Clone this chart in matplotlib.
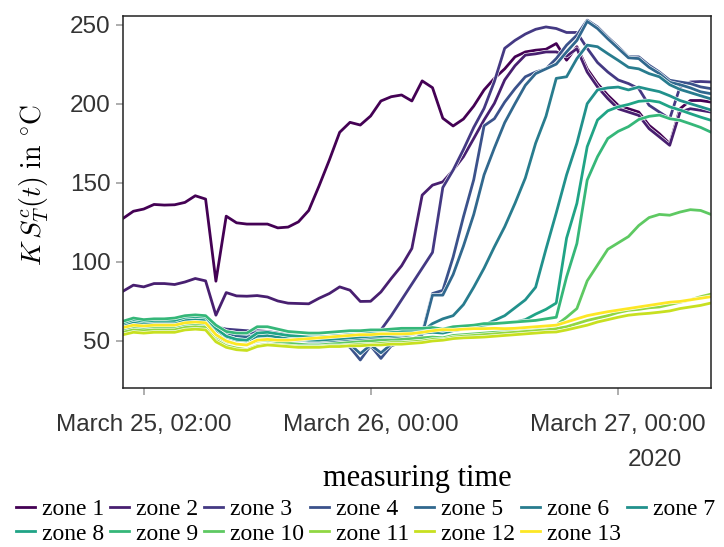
import numpy as np
import pandas as pd
import matplotlib
matplotlib.use('Agg')
import matplotlib.pyplot as plt
import matplotlib.patheffects as pe

# hourly samples, March 25 00:00 .. March 27 09:00 (2020)
times = pd.date_range('2020-03-25 00:00', periods=58, freq='h')

zone1 = [127.5, 132, 133.4, 136.3, 135.9, 136.1, 137.6, 141.8, 139.7, 87.8,
         128.9, 124.7, 123.9, 123.9, 123.9, 121.5, 122, 125.3, 132.5, 148,
         164.4, 181.9, 188.2, 186.5, 192.2, 201.7, 204.4, 205.5, 201.7, 214.4,
         210.1, 190.8, 185.9, 190.3, 198.5, 208.7, 216, 222, 229.6, 232.7,
         233.8, 234.4, 238, 227.5, 236, 222, 212.7, 205.3, 199, 196.8,
         194.7, 186.3, 181, 174.7, 196.8, 202, 202, 201]
zone2 = [81.5, 85.3, 84.2, 86.3, 86.3, 85.7, 87.3, 89.5, 88, 66.3,
         80.6, 78.5, 78.3, 78.7, 77.8, 75.3, 73.9, 73.7, 73.5, 77,
         80, 84.2, 82.1, 75, 75.1, 81, 89.5, 97.5, 108.5, 142.2,
         148.5, 150.6, 158, 166.5, 178, 189.7, 200.2, 215, 224, 230.7,
         231.5, 232.7, 232.7, 230, 234.8, 220, 210.6, 203.2, 196.8, 194.7,
         192.6, 184.2, 179, 173.7, 194.7, 196.8, 195.8, 194.7]
zone3 = [60, 62, 61.5, 62, 62, 62, 63, 63.5, 63, 59,
         57.5, 57, 56.5, 56.5, 56, 55, 54, 53, 52.5, 52,
         51.5, 51, 50.5, 50, 52, 57, 66, 76, 86, 96,
         106, 147, 158, 171, 185, 197, 214, 235, 240, 244,
         247, 248.5, 247.5, 245, 245, 235, 226, 220, 215, 212.7,
         209.5, 199, 194.7, 190.5, 210.6, 213.7, 214, 213.7]
zone4 = [60.5, 62, 61.5, 62, 62, 62, 63, 63.5, 63, 58.5,
         56, 55, 54.5, 55.5, 55, 54, 53, 52.5, 52, 51,
         50, 49, 46, 38, 47, 39, 47, 49, 50, 55,
         80, 82, 103, 128.5, 152, 186, 190.5, 201, 209.5, 217,
         220, 222, 228.5, 237, 243.3, 252.8, 248.5, 242, 236, 229.6,
         229.6, 224.3, 220, 214.8, 213.7, 212.7, 210.6, 209.5]
zone5 = [59, 61, 60, 60.5, 60.5, 60.5, 62, 62.5, 62, 57.5,
         54.5, 53, 52.5, 54, 54, 53, 52, 51.5, 51, 50.5,
         50, 49.5, 48, 42, 47.5, 42.5, 48, 50, 51, 54,
         79, 79, 92, 110, 130, 155, 172, 188, 200, 211.6,
         219, 222, 225, 232.7, 240, 252, 247.5, 241, 235, 229,
         228.5, 223, 219, 213.5, 212, 210, 207.5, 206.3]
zone6 = [59.5, 61.5, 60.5, 61, 61, 61, 62.5, 63, 62.5, 57,
         53, 51, 50.5, 52.5, 53, 52, 51, 50.5, 50, 50,
         50, 50.5, 51, 51, 51.5, 52, 52, 53, 54, 56,
         61, 64, 66, 73, 84, 96, 109.5, 122.2, 137, 153,
         175, 192, 216, 217, 228.5, 237, 236, 231.6, 227.4, 223,
         222, 219, 217, 212, 209, 207, 205, 203]
zone7 = [60, 62, 61, 61.5, 61.5, 61.5, 63, 63.5, 63, 57,
         52.5, 50.5, 50, 53, 53.5, 52.5, 51.5, 51, 50.5, 50.5,
         51, 51.5, 52, 52.5, 53, 53, 53.5, 54, 54.5, 55,
         55.5, 55, 56.5, 57.5, 58.5, 60, 63, 66, 71, 76,
         84, 108, 131, 155, 175, 200, 208.7, 210, 210.5, 208.7,
         210.5, 209, 207.6, 205, 202, 200, 198, 196]
zone8 = [61.5, 63.5, 62.5, 63, 63, 63, 65, 65.5, 65, 58,
         53, 51, 50.5, 55, 55.5, 54.5, 53.5, 53, 52.5, 52.5,
         53, 53.5, 54, 54.5, 55, 55, 55.5, 56, 56.5, 57,
         57.5, 56.5, 58, 58.5, 59, 60, 61, 61.5, 62, 63.5,
         67, 70, 74, 115, 137, 172.8, 189.7, 195.5, 198, 199.5,
         201.5, 202, 201, 198, 196, 193.7, 191.5, 189.5]
zone9 = [62.5, 64.5, 63.5, 64, 64, 64.5, 66, 66.5, 66, 60,
         56, 55, 55, 59, 59, 57.5, 56, 55.5, 55, 55,
         55.5, 56, 56.5, 56.5, 57, 57, 57.5, 58, 58, 58,
         58.5, 57.5, 59, 59.5, 60, 61, 61, 61.5, 62, 62.5,
         63, 64, 65, 90.5, 111.6, 151.7, 166.5, 178, 182.5, 185.5,
         190, 192, 192.8, 190.5, 189.5, 187.3, 185, 182]
zone10 = [57, 58.5, 58, 58.5, 58.5, 58.5, 60, 60.5, 60, 53,
          49.5, 48, 47.5, 50, 50.5, 49.5, 48.5, 48, 47.5, 47.5,
          48, 48.5, 49, 49.5, 50, 50.5, 50.5, 51, 51.5, 52,
          52.5, 52, 53.5, 54, 54.5, 55, 55.5, 56, 56.5, 57,
          57.5, 58.5, 60, 65, 70.5, 88, 98, 108, 112, 116,
          123, 128, 130, 129.5, 131.5, 133, 132.5, 130]
zone11 = [55.5, 57, 56.5, 57, 57, 57, 58.5, 59, 58.5, 50.5,
          47, 45.5, 44.5, 47, 48, 47.5, 47, 46.5, 46.5, 46.5,
          47, 47, 47.5, 48, 48, 48.5, 49, 49, 49.5, 50,
          51, 51, 52.5, 53, 53.5, 54, 54.5, 55, 55.5, 56,
          56.5, 57, 57.8, 59, 61, 63, 64.5, 66, 68, 69.4,
          70, 71, 71.5, 73, 74.5, 76, 78, 79.6]
zone12 = [54, 55.5, 55, 55.5, 55.5, 55.5, 57, 57.5, 57, 49.5,
          46, 44.5, 44, 46.5, 47.5, 47, 46.5, 46, 46, 46,
          46.5, 46.5, 47, 47, 47.5, 47.5, 48, 48, 48.5, 49,
          50, 50.5, 51.5, 52, 52.2, 52.5, 53, 53.5, 54, 54.5,
          55, 55.5, 55.7, 57, 58.5, 60, 62, 63.5, 65, 66.3,
          67, 67.5, 68.2, 69, 70.5, 71.5, 72.5, 74]
zone13 = [58.5, 60, 59.5, 60, 60, 60, 61.5, 62, 61.5, 54,
          50, 48, 47.5, 50.5, 51, 50.5, 50.5, 51, 51.5, 52,
          52.5, 53, 53.5, 54, 54, 54.5, 54.5, 54.5, 54.7, 55.5,
          56.5, 57.2, 57, 57.5, 57.8, 57.8, 58, 57.8, 58, 58.5,
          59, 59.5, 60, 62, 64, 66, 67.3, 68.5, 69.5, 70.5,
          71.5, 72.5, 73.5, 74.5, 75, 76, 77, 78]

zones = [zone1, zone2, zone3, zone4, zone5, zone6, zone7,
         zone8, zone9, zone10, zone11, zone12, zone13]
labels = ['zone %d' % (i + 1) for i in range(len(zones))]

tick_times = pd.to_datetime(['2020-03-25 02:00', '2020-03-26 00:00', '2020-03-27 00:00'])
tick_labels = ['March 25, 02:00', 'March 26, 00:00', 'March 27, 00:00']
y_ticks = [50, 100, 150, 200, 250]

plt.rcParams['mathtext.fontset'] = 'cm'
sans = ['Liberation Sans', 'DejaVu Sans']
serif = ['Liberation Serif', 'DejaVu Serif']

fig = plt.figure(figsize=(7.24, 5.47), dpi=100)
ax = fig.add_axes([0.170, 0.291, 0.812, 0.680])

colors = plt.cm.viridis(np.linspace(0, 1, len(zones)))
handles = []
for vals, lab, col in zip(zones, labels, colors):
    h, = ax.plot(times, vals, color=col, lw=2.0, label=lab,
                 path_effects=[pe.Stroke(linewidth=2.9, foreground='white'), pe.Normal()])
    handles.append(h)

ax.set_xlim(times[0], times[-1])
ax.set_ylim(20.4, 255.5)
ax.set_yticks(y_ticks)
ax.set_xticks(tick_times)
ax.set_xticklabels(tick_labels, family=sans, fontsize=17.5, color='#333333')
for t in ax.get_yticklabels():
    t.set_family(sans)
ax.tick_params(axis='y', labelsize=17.5, labelcolor='#333333', color='#999999',
               length=5, width=1.1, pad=4)
ax.tick_params(axis='x', color='#999999', length=5, width=1.1, pad=14)

for s in ax.spines.values():
    s.set_color('#222222')
    s.set_linewidth(1.1)

fig.text(0.905, 0.159, '2020', family=sans, fontsize=17.5, color='#333333',
         ha='center', va='center')
fig.text(0.576, 0.126, 'measuring time', family=serif, fontsize=22,
         ha='center', va='center')
fig.text(0.048, 0.662, r'$K\,S^{c}_{T}(t)\ \mathrm{in}\ {}^{\circ}\mathrm{C}$',
         fontsize=20, rotation=90, ha='center', va='center')

# legend fills column by column, so interleave to get zones 1-7 on the first row
ncol = 7
order = []
for c in range(ncol):
    order.append(c)
    if c + ncol < len(handles):
        order.append(c + ncol)
fig.legend([handles[i] for i in order], [labels[i] for i in order],
           loc='upper left', bbox_to_anchor=(0.022, 0.088), ncol=ncol,
           frameon=False, prop={'family': serif, 'size': 17},
           handlelength=0.8, handletextpad=0.3, columnspacing=0.25,
           labelspacing=0.12, borderpad=0, borderaxespad=0)

fig.savefig('out.png', dpi=100)
